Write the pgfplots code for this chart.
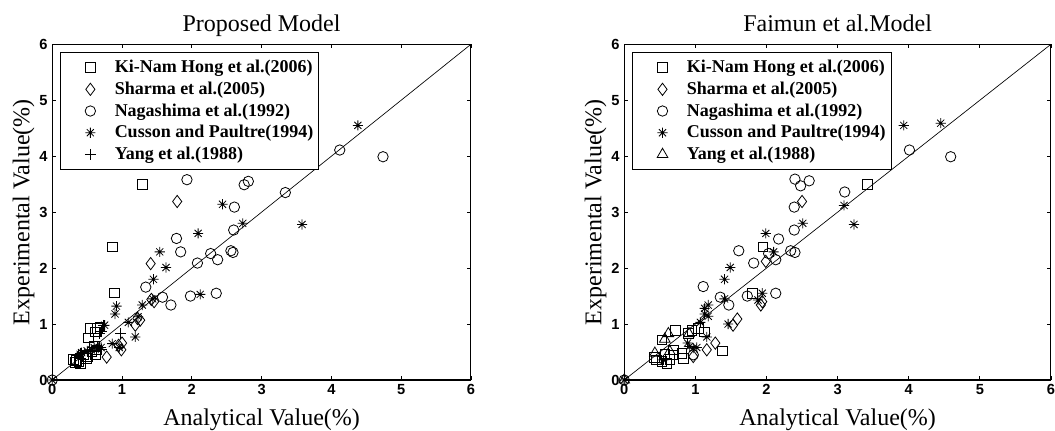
\documentclass[border=0pt]{standalone}
\usepackage{fontspec}
\setmainfont{Liberation Serif}
\newfontfamily\ticksf{Liberation Sans}
\usepackage{pgfplots}
\pgfplotsset{compat=1.18}
\pgfdeclareplotmark{mstar}{%
 \pgfpathmoveto{\pgfqpoint{0pt}{\pgfplotmarksize}}\pgfpathlineto{\pgfqpoint{0pt}{-\pgfplotmarksize}}%
 \pgfpathmoveto{\pgfqpoint{\pgfplotmarksize}{0pt}}\pgfpathlineto{\pgfqpoint{-\pgfplotmarksize}{0pt}}%
 \pgfpathmoveto{\pgfqpoint{0.7\pgfplotmarksize}{0.7\pgfplotmarksize}}\pgfpathlineto{\pgfqpoint{-0.7\pgfplotmarksize}{-0.7\pgfplotmarksize}}%
 \pgfpathmoveto{\pgfqpoint{0.7\pgfplotmarksize}{-0.7\pgfplotmarksize}}\pgfpathlineto{\pgfqpoint{-0.7\pgfplotmarksize}{0.7\pgfplotmarksize}}%
 \pgfusepathqstroke}
\pgfplotsset{
 myax/.style={
  scale only axis, height=251.8pt,
  xmin=0,xmax=6,ymin=0,ymax=6,
  xtick={0,...,6}, ytick={0,...,6},
  tick align=inside, major tick length=3pt,
  axis line style={line width=0.8pt},
  every tick/.style={line width=0.6pt,black},
  tick label style={font=\ticksf\bfseries\fontsize{11}{12}\selectfont},
  /pgf/number format/assume math mode=true,
  every axis title/.style={at={(0.5,1)},anchor=base,yshift=9.5pt,font=\fontsize{18}{20}\selectfont},
  every axis x label/.style={at={(0.5,0)},anchor=base,yshift=-33.75pt,font=\fontsize{18}{20}\selectfont},
  every axis y label/.style={at={(0,0.5)},xshift=-17.25pt,rotate=90,anchor=base,font=\fontsize{18}{20}\selectfont},
  xlabel={Analytical Value(\%)}, ylabel={Experimental Value(\%)},
  legend cell align=left,
  legend style={at={(0.019,0.977)},anchor=north west,draw=black,line width=0.6pt,fill=white,
    font=\bfseries\fontsize{13.5}{15}\selectfont,row sep=1.4pt,inner xsep=2pt,inner ysep=4pt},
  legend image code/.code={\draw[#1,line width=0.6pt] plot coordinates {(0pt,0pt)}; \path (-20pt,0pt) (16pt,0pt);},
  every axis plot/.append style={only marks,black,line width=0.6pt},
 },
 sq/.style={mark=square,mark size=3.6pt},
 dia/.style={mark=diamond,mark size=4.6pt},
 cir/.style={mark=o,mark size=3.9pt},
 st/.style={mark=mstar,mark size=3.8pt},
 pl/.style={mark=+,mark size=4.2pt},
 tri/.style={mark=triangle,mark size=4.6pt},
}
\begin{document}
\begin{tikzpicture}
\path[use as bounding box] (0,0) rectangle (791.25pt,322.5pt);
% ---------------- Left: Proposed Model
\begin{axis}[myax, at={(39.2pt,37.5pt)}, anchor=south west, width=314.0pt, title={Proposed Model}]
\addplot[forget plot,no marks,sharp plot,line width=0.5pt] coordinates {(0,0) (6,6)};
\addplot[sq] coordinates {(1.29,3.50)(0.86,2.38)(0.89,1.56)(0.55,0.92)(0.65,0.92)(0.68,0.95)(0.52,0.75)(0.62,0.86)(0.60,0.60)(0.57,0.50)(0.45,0.45)(0.50,0.42)(0.35,0.35)(0.33,0.32)(0.38,0.33)(0.40,0.30)(0.62,0.45)(0.64,0.54)(0.49,0.39)(0.30,0.37)};
\addlegendentry{Ki-Nam Hong et al.(2006)}
\addplot[dia] coordinates {(1.79,3.19)(1.41,2.08)(1.46,1.40)(1.42,1.44)(1.26,1.07)(1.22,1.10)(1.19,0.98)(0.99,0.54)(1.00,0.66)(0.78,0.41)(0.95,0.62)};
\addlegendentry{Sharma et al.(2005)}
\addplot[cir] coordinates {(0,0)(4.12,4.11)(4.74,3.99)(3.34,3.35)(1.93,3.58)(2.75,3.49)(2.81,3.55)(2.61,3.09)(2.60,2.68)(1.78,2.53)(1.84,2.29)(2.27,2.26)(2.56,2.31)(2.59,2.28)(2.08,2.09)(2.37,2.15)(1.34,1.66)(1.58,1.48)(1.70,1.34)(1.98,1.50)(2.35,1.55)};
\addlegendentry{Nagashima et al.(1992)}
\addplot[st] coordinates {(0,0)(4.38,4.55)(3.58,2.78)(2.44,3.14)(2.73,2.80)(2.09,2.62)(1.54,2.29)(1.63,2.01)(1.45,1.80)(1.44,1.45)(2.12,1.53)(1.29,1.34)(0.92,1.32)(0.90,1.18)(1.09,1.03)(1.23,1.13)(1.19,0.77)(0.86,0.65)(0.96,0.58)(0.75,0.98)(0.66,0.57)(0.56,0.54)(0.42,0.49)(0.40,0.46)(0.50,0.52)(0.60,0.58)(0.70,0.58)};
\addlegendentry{Cusson and Paultre(1994)}
\addplot[pl] coordinates {(3.49,4.59)(0.98,0.83)(0.73,0.98)(0.68,0.83)(0.64,0.60)(0.71,0.54)(0.40,0.48)(0.70,0.86)};
\addlegendentry{Yang et al.(1988)}
\end{axis}
% ---------------- Right: Faimun et al. Model
\begin{axis}[myax, at={(468.2pt,37.5pt)}, anchor=south west, width=320.0pt, title={Faimun et al.Model}]
\addplot[forget plot,no marks,sharp plot,line width=0.5pt] coordinates {(0,0) (6,6)};
\addplot[sq] coordinates {(3.42,3.50)(1.95,2.38)(1.80,1.55)(1.38,0.52)(0.72,0.89)(1.04,0.92)(1.13,0.86)(0.53,0.72)(0.95,0.89)(0.90,0.83)(0.69,0.54)(0.83,0.39)(0.45,0.36)(0.53,0.33)(0.60,0.30)(0.64,0.37)(0.57,0.46)(0.81,0.48)(0.42,0.40)(0.70,0.45)};
\addlegendentry{Ki-Nam Hong et al.(2006)}
\addplot[dia] coordinates {(2.50,3.19)(1.99,2.12)(1.94,1.40)(1.92,1.34)(1.59,1.09)(1.53,0.98)(1.28,0.66)(1.16,0.54)(0.97,0.42)};
\addlegendentry{Sharma et al.(2005)}
\addplot[cir] coordinates {(0,0)(4.01,4.11)(4.59,3.99)(3.10,3.36)(2.40,3.59)(2.48,3.47)(2.60,3.56)(2.39,3.09)(2.39,2.68)(2.17,2.52)(1.61,2.31)(2.03,2.26)(2.34,2.31)(2.40,2.28)(1.82,2.09)(2.13,2.15)(1.11,1.67)(1.35,1.48)(1.47,1.34)(1.73,1.50)(2.13,1.55)(0.97,0.45)};
\addlegendentry{Nagashima et al.(1992)}
\addplot[st] coordinates {(0,0)(3.93,4.55)(4.45,4.59)(3.23,2.78)(3.09,3.12)(2.51,2.80)(1.99,2.62)(2.10,2.29)(1.49,2.01)(1.41,1.80)(1.41,1.45)(1.94,1.55)(1.88,1.43)(1.18,1.34)(1.13,1.28)(1.13,1.18)(1.18,1.14)(1.07,1.03)(1.46,1.00)(1.16,0.77)(0.89,0.66)(0.92,0.60)(1.02,0.58)(0.97,0.57)(0.55,0.36)};
\addlegendentry{Cusson and Paultre(1994)}
\addplot[tri] coordinates {(0,0)(0.57,0.73)(0.62,0.83)(0.91,0.83)(0.43,0.48)(0.64,0.51)};
\addlegendentry{Yang et al.(1988)}
\end{axis}
\end{tikzpicture}
\end{document}
